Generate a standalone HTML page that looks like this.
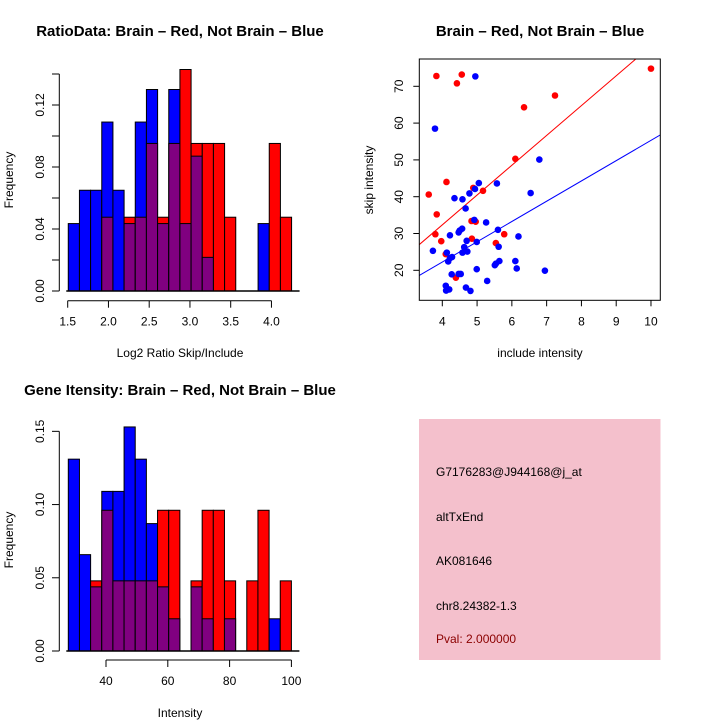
<!DOCTYPE html>
<html><head><meta charset="utf-8"><style>
html,body{margin:0;padding:0;background:#fff}
svg{display:block;font-family:"Liberation Sans",Arial,sans-serif}
</style></head><body>
<svg id="c" width="720" height="720" viewBox="0 0 720 720" xmlns="http://www.w3.org/2000/svg">
<rect width="720" height="720" fill="#fff"/>
<g id="p1"></g>
<g id="p2"></g>
<g id="p3"></g>
<g>
<rect x="419" y="419" width="241.5" height="241" fill="#f4c0cc"/>
<text x="436" y="476" font-size="12" fill="#000">G7176283@J944168@j_at</text>
<text x="436" y="521" font-size="12" fill="#000">altTxEnd</text>
<text x="436" y="565" font-size="12" fill="#000">AK081646</text>
<text x="436" y="610" font-size="12" fill="#000">chr8.24382-1.3</text>
<text x="436" y="643" font-size="12" fill="#8b0000">Pval: 2.000000</text>
</g>
</svg>
<script>
// Ratio histogram data (density per bin)
const ratioBreakStart = 1.507;
const ratioBinWidth = 0.137;
const ratioBlue = [0.0435,0.065,0.065,0.109,0.065,0.0435,0.109,0.130,0.0435,0.130,0.0435,0.087,0.0217,0,0,0,0,0.0435,0,0];
const ratioRed  = [0,0,0,0.0476,0,0.0476,0.0476,0.0952,0.0476,0.0952,0.1429,0.0952,0.0952,0.0952,0.0476,0,0,0,0.0952,0.0476];
const ratioXTicks = [1.5,2.0,2.5,3.0,3.5,4.0];
const ratioYTicks = [0,0.04,0.08,0.12];
const ratioYMinorTicks = [0.02,0.06,0.10,0.14];

// Gene intensity histogram data
const intBreakStart = 27.8;
const intBinWidth = 3.61;
const intBlue = [0.131,0.0658,0.0438,0.109,0.109,0.153,0.131,0.087,0.0438,0.022,0,0.0438,0.022,0,0.022,0,0,0,0.022,0];
const intRed  = [0,0,0.0479,0.0961,0.0479,0.0479,0.0479,0.0479,0.0961,0.0961,0,0.0479,0.0961,0.0961,0.0479,0,0.0479,0.0961,0,0.0479];
const intXTicks = [40,60,80,100];
const intYTicks = [0,0.05,0.10,0.15];

// Scatter data
const redX = [3.83,4.56,4.42,10.0,7.24,6.35,6.10,4.12,3.61,5.17,4.89,3.84,4.84,4.96,3.80,3.97,4.85,5.54,5.78,4.10,4.39];
const redY = [72.8,73.2,70.8,74.8,67.5,64.3,50.3,44.0,40.6,41.6,42.4,35.2,33.4,33.2,29.8,27.9,28.6,27.4,29.8,24.4,18.0];
const blueX = [4.95,3.79,6.79,5.05,5.57,4.94,6.54,4.78,4.35,4.58,4.67,4.92,5.26,4.57,4.50,4.47,5.60,4.22,6.19,4.70,4.99,5.62,3.73,4.63,4.72,4.58,4.13,4.28,4.22,4.17,6.10,5.64,5.54,5.51,6.14,4.99,6.95,4.27,4.47,4.53,5.29,4.10,4.11,4.20,4.68,4.81];
const blueY = [72.7,58.5,50.1,43.7,43.6,42.1,41.0,40.9,39.6,39.3,36.8,33.7,33.0,31.3,30.8,30.3,31.0,29.5,29.2,28.0,27.7,26.4,25.3,26.3,25.1,24.8,24.8,23.6,23.3,22.4,22.5,22.5,21.8,21.4,20.5,20.3,19.9,18.9,19.0,19.0,17.1,15.8,14.5,14.8,15.3,14.4];
const redFit = [-0.05, 8.10];
const blueFit = [0.2, 5.51];
const scatterXTicks = [4,5,6,7,8,9,10];
const scatterYTicks = [20,30,40,50,60,70];

const NS = "http://www.w3.org/2000/svg";
function mk(parent, tag, attrs, txt){
  const e = document.createElementNS(NS, tag);
  for (const k in attrs) e.setAttribute(k, attrs[k]);
  if (txt !== undefined) e.textContent = txt;
  parent.appendChild(e);
  return e;
}

function histogram(g, o){
  const sx = v => o.x0 + (v - o.xv0) * o.xk;
  const sy = v => o.y0 - v * o.yk;
  for (let i = 0; i < o.blue.length; i++){
    const a = o.start + i * o.w, b = a + o.w;
    const x = sx(a), w = sx(b) - sx(a);
    const bl = o.blue[i], rd = o.red[i];
    const hi = Math.max(bl, rd), lo = Math.min(bl, rd);
    if (hi > 0){
      const r = mk(g, 'rect', {x:x, y:sy(hi), width:w, height:sy(0)-sy(hi), fill: bl >= rd ? '#0000ff' : '#ff0000', stroke:'#000', 'stroke-width':1});
      
      
    }
    if (lo > 0){
      const r = mk(g, 'rect', {x:x, y:sy(lo), width:w, height:sy(0)-sy(lo), fill:'#800080', stroke:'#000', 'stroke-width':1});
      
      
    }
  }
  const bl = mk(g, 'line', {x1:sx(o.start)-2, x2:sx(o.start + o.blue.length*o.w)+8, y1:sy(0), y2:sy(0), stroke:'#000', 'stroke-width':1.5});
  
  
  const xa = mk(g, 'g', {});
  
  
  mk(xa, 'line', {x1:sx(o.xt[0]), x2:sx(o.xt[o.xt.length-1]), y1:o.xAxisY, y2:o.xAxisY, stroke:'#000'});
  o.xt.forEach(t => {
    mk(xa, 'line', {x1:sx(t), x2:sx(t), y1:o.xAxisY, y2:o.xAxisY+7, stroke:'#000'});
    const tl = mk(xa, 'text', {x:sx(t), y:o.xAxisY+25, 'font-size':12, 'text-anchor':'middle'}, o.fmtX(t));
    
    
  });
  const ya = mk(g, 'g', {});
  
  
  const all = o.yt.concat(o.ym || []);
  const ymax = Math.max.apply(null, all);
  mk(ya, 'line', {x1:59.3, x2:59.3, y1:sy(0), y2:sy(ymax), stroke:'#000'});
  all.forEach(t => mk(ya, 'line', {x1:52, x2:59.3, y1:sy(t), y2:sy(t), stroke:'#000'}));
  o.yt.forEach(t => {
    const tl = mk(ya, 'text', {x:0, y:0, 'font-size':12, 'text-anchor':'middle', transform:`translate(44,${sy(t)}) rotate(-90)`}, t.toFixed(2));
    
    
  });
  const yt = mk(g, 'text', {x:0,y:0,'font-size':12,'text-anchor':'middle',transform:`translate(13,${o.yTitleY}) rotate(-90)`}, 'Frequency');
  
  
  const xt = mk(g, 'text', {x:o.xTitleX, y:o.xTitleY, 'font-size':12, 'text-anchor':'middle'}, o.xTitle);
  
  
  const tt = mk(g, 'text', {x:o.titleX, y:o.titleY, 'font-size':15, 'font-weight':'bold', 'text-anchor':'middle'}, o.title);
  
  
}

histogram(document.getElementById('p1'), {
  blue: ratioBlue, red: ratioRed, start: ratioBreakStart, w: ratioBinWidth,
  x0: 67.7, xv0: 1.5, xk: 81.5, y0: 291, yk: 1550, xAxisY: 300.7,
  xt: ratioXTicks, yt: ratioYTicks, ym: ratioYMinorTicks, fmtX: t => t.toFixed(1),
  xTitle: 'Log2 Ratio Skip/Include', xTitleX: 180, xTitleY: 357, yTitleY: 180,
  title: 'RatioData: Brain \u2013 Red, Not Brain \u2013 Blue', titleX: 180, titleY: 36
});
histogram(document.getElementById('p3'), {
  blue: intBlue, red: intRed, start: intBreakStart, w: intBinWidth,
  x0: 106, xv0: 40, xk: 3.09, y0: 651, yk: 1464.4, xAxisY: 660,
  xt: intXTicks, yt: intYTicks, fmtX: t => String(t),
  xTitle: 'Intensity', xTitleX: 180, xTitleY: 717, yTitleY: 540,
  title: 'Gene Itensity: Brain \u2013 Red, Not Brain \u2013 Blue', titleX: 180, titleY: 395
});

(function(){
  const g = document.getElementById('p2');
  const L = 419.3, R = 660.3, T = 59, B = 300.3;
  const sx = v => 442.3 + (v - 4) * 34.78;
  const sy = v => 270.3 - (v - 20) * 3.68;
  mk(mk(g,'defs',{}), 'clipPath', {id:'clipS'}).appendChild(document.createElementNS(NS,'rect'));
  const cr = document.querySelector('#clipS rect');
  cr.setAttribute('x', L); cr.setAttribute('y', T); cr.setAttribute('width', R-L); cr.setAttribute('height', B-T);
  const fits = [[redFit,'#ff0000','red-fit-line'],[blueFit,'#0000ff','blue-fit-line']];
  const xa0 = 4 + (L - 442.3)/34.78, xa1 = 4 + (R - 442.3)/34.78;
  fits.forEach(f => {
    const ln = mk(g, 'line', {x1:sx(xa0), y1:sy(f[0][0]+f[0][1]*xa0), x2:sx(xa1), y2:sy(f[0][0]+f[0][1]*xa1), stroke:f[1], 'stroke-width':1, 'clip-path':'url(#clipS)'});
    
    
  });
  for (let i = 0; i < redX.length; i++){
    const c = mk(g, 'circle', {cx:sx(redX[i]), cy:sy(redY[i]), r:3.3, fill:'#ff0000'});
    
    
  }
  for (let i = 0; i < blueX.length; i++){
    const c = mk(g, 'circle', {cx:sx(blueX[i]), cy:sy(blueY[i]), r:3.3, fill:'#0000ff'});
    
    
  }
  const box = mk(g, 'rect', {x:L, y:T, width:R-L, height:B-T, fill:'none', stroke:'#000'});
  
  
  scatterXTicks.forEach(t => {
    mk(g, 'line', {x1:sx(t), x2:sx(t), y1:B, y2:B+6, stroke:'#000'});
    const tl = mk(g, 'text', {x:sx(t), y:B+25, 'font-size':12, 'text-anchor':'middle'}, String(t));
    
    
  });
  scatterYTicks.forEach(t => {
    mk(g, 'line', {x1:L-6, x2:L, y1:sy(t), y2:sy(t), stroke:'#000'});
    const tl = mk(g, 'text', {x:0, y:0, 'font-size':12, 'text-anchor':'middle', transform:`translate(403,${sy(t)}) rotate(-90)`}, String(t));
    
    
  });
  const xt = mk(g, 'text', {x:540, y:357, 'font-size':12, 'text-anchor':'middle'}, 'include intensity');
  
  
  const yt = mk(g, 'text', {x:0, y:0, 'font-size':12, 'text-anchor':'middle', transform:'translate(373,180) rotate(-90)'}, 'skip intensity');
  
  
  const tt = mk(g, 'text', {x:540, y:36, 'font-size':15, 'font-weight':'bold', 'text-anchor':'middle'}, 'Brain \u2013 Red, Not Brain \u2013 Blue');
  
  
})();
</script>
</body></html>
